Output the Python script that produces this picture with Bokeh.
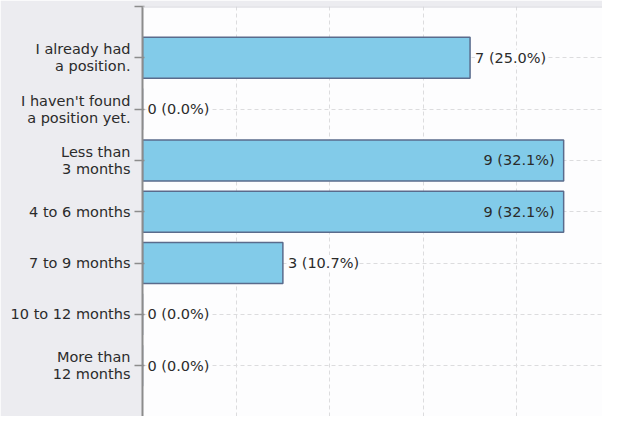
from bokeh.plotting import figure
from bokeh.models import ColumnDataSource, FixedTicker, Range1d, Span
from bokeh.embed import file_html
from bokeh.resources import INLINE
from bokeh.core.properties import value

categories = [
    "I already had\na position.",
    "I haven't found\na position yet.",
    "Less than\n3 months",
    "4 to 6 months",
    "7 to 9 months",
    "10 to 12 months",
    "More than\n12 months",
]
counts = [7, 0, 9, 9, 3, 0, 0]
percents = [25.0, 0.0, 32.1, 32.1, 10.7, 0.0, 0.0]
x_ticks = [0, 2, 4, 6, 8]

FONT = "DejaVu Sans"
x_max = 9.83

ypos = list(range(len(categories)))
labels = [f"{c} ({p:.1f}%)" for c, p in zip(counts, percents)]
inside = [c / x_max > 0.85 for c in counts]

p = figure(width=602, height=416, output_backend="svg", toolbar_location=None,
           x_range=Range1d(0, x_max), y_range=Range1d(6.99, -1),
           min_border_left=142, min_border_top=6, min_border_right=0, min_border_bottom=0)
p.border_fill_color = "#ececf0"
p.background_fill_color = "#fdfdfe"
p.outline_line_color = None

p.xaxis.visible = False
p.xaxis.ticker = FixedTicker(ticks=x_ticks)
p.xgrid.ticker = FixedTicker(ticks=x_ticks)
p.xgrid.grid_line_color = "#dcdcde"
p.xgrid.grid_line_dash = "4 3"
p.xgrid.grid_line_width = 1

yax = p.yaxis[0]
yax.ticker = FixedTicker(ticks=[-1] + ypos)
overrides = {i: c for i, c in zip(ypos, categories)}
overrides[-1] = ""
yax.major_label_overrides = overrides
yax.axis_line_color = "#8c8c8c"
yax.axis_line_width = 2
yax.major_tick_line_color = "#8c8c8c"
yax.major_tick_line_width = 1.5
yax.major_tick_out = 8
yax.major_tick_in = 2
yax.minor_tick_line_color = None
yax.major_label_standoff = 4
yax.major_label_text_font = FONT
yax.major_label_text_font_size = "14.5px"
yax.major_label_text_color = "#2b2b2b"
yax.major_label_text_align = "right"
yax.major_label_text_line_height = 1.05

p.ygrid.ticker = FixedTicker(ticks=ypos)
p.ygrid.grid_line_color = "#dcdcde"
p.ygrid.grid_line_dash = "4 3"
p.ygrid.grid_line_width = 1

p.add_layout(Span(location=-1, dimension="width", line_color="#d4d4da", line_width=2))

src = ColumnDataSource(dict(y=ypos, v=counts, lab=labels))
p.hbar(y="y", left=0, right="v", height=0.8, source=src,
       fill_color="#82cbe9", line_color="#5a6b8c", line_width=1.5)

out_src = ColumnDataSource(dict(
    y=[y for y, i in zip(ypos, inside) if not i],
    v=[v for v, i in zip(counts, inside) if not i],
    lab=[l for l, i in zip(labels, inside) if not i]))
in_src = ColumnDataSource(dict(
    y=[y for y, i in zip(ypos, inside) if i],
    v=[v for v, i in zip(counts, inside) if i],
    lab=[l for l, i in zip(labels, inside) if i]))

p.text(x="v", y="y", text="lab", source=out_src, x_offset=5,
       text_align="left", text_baseline="middle",
       text_font=value(FONT), text_font_size="14.5px", text_color="#2b2b2b",
       background_fill_color="#fdfdfe")
p.text(x="v", y="y", text="lab", source=in_src, x_offset=-9,
       text_align="right", text_baseline="middle",
       text_font=value(FONT), text_font_size="14.5px", text_color="#2b2b2b")

open("out.html", "w").write(file_html(p, INLINE))
